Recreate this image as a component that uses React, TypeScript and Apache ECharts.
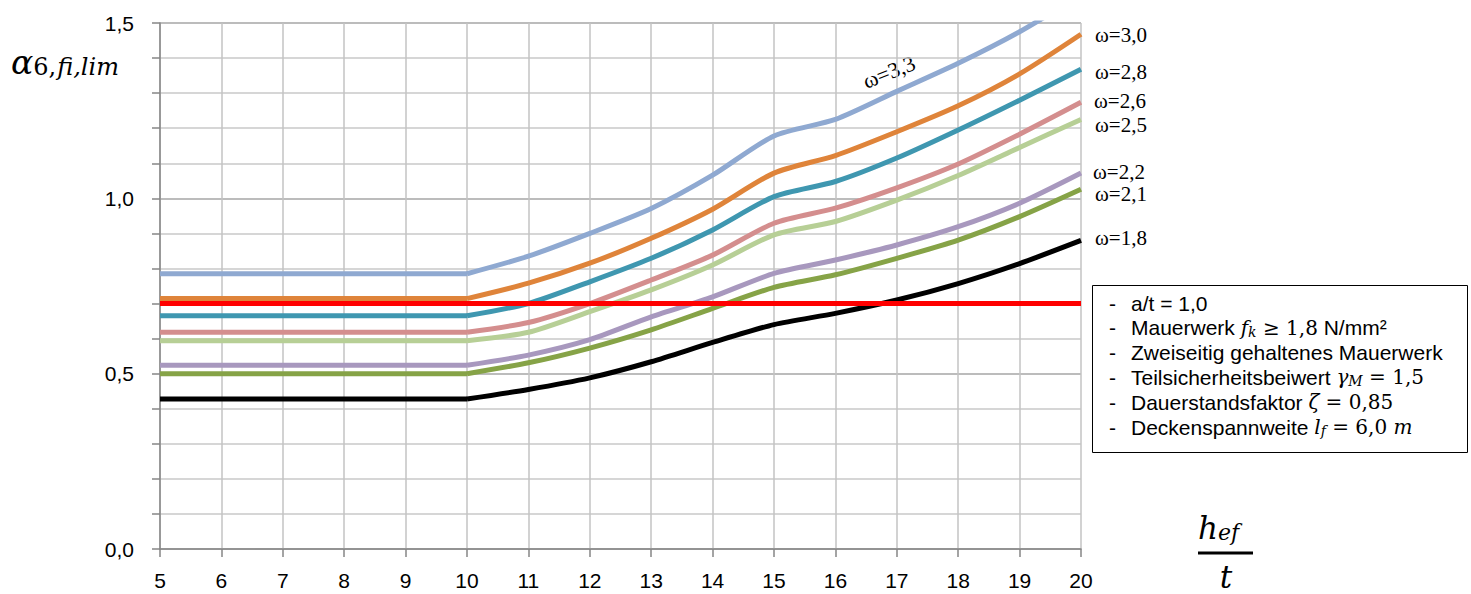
import React, { useEffect, useRef } from "react";
import * as echarts from "echarts";

// h_ef / t values: flat part from 5 to 10, rising part from 10 to 20
const xFlat = [5, 10];
const xRise = [10, 11, 12, 13, 14, 15, 16, 17, 18, 19, 20];

// α6,fi,lim per slenderness, one array per ω (values at xRise)
const omega33 = [0.785, 0.835, 0.9, 0.971, 1.066, 1.178, 1.225, 1.305, 1.385, 1.475, 1.58];
const omega30 = [0.714, 0.758, 0.815, 0.886, 0.969, 1.072, 1.122, 1.19, 1.264, 1.355, 1.468];
const omega28 = [0.665, 0.7, 0.762, 0.829, 0.91, 1.005, 1.048, 1.115, 1.195, 1.28, 1.368];
const omega26 = [0.618, 0.646, 0.7, 0.767, 0.838, 0.929, 0.972, 1.03, 1.098, 1.183, 1.274];
const omega25 = [0.594, 0.618, 0.677, 0.739, 0.81, 0.896, 0.934, 0.995, 1.065, 1.145, 1.225];
const omega22 = [0.524, 0.553, 0.597, 0.662, 0.719, 0.786, 0.824, 0.867, 0.919, 0.986, 1.072];
const omega21 = [0.5, 0.531, 0.573, 0.625, 0.686, 0.746, 0.782, 0.829, 0.881, 0.948, 1.026];
const omega18 = [0.428, 0.455, 0.488, 0.534, 0.589, 0.64, 0.672, 0.71, 0.757, 0.814, 0.88];

// horizontal limit line
const limitValue = 0.7;
const limitX = [5, 20];

const curveNames = ["ω=3,3", "ω=3,0", "ω=2,8", "ω=2,6", "ω=2,5", "ω=2,2", "ω=2,1", "ω=1,8"];
const curveValues = [omega33, omega30, omega28, omega26, omega25, omega22, omega21, omega18];
const curveColors = ["#8FA9D1", "#DF843A", "#3F97B0", "#D48E8E", "#B7CF96", "#A898BE", "#86A347", "#000000"];

// legend box text lines
const noteLines = [
  "a/t = 1,0",
  "Mauerwerk {m|f}{s|k}{r| ≥ 1,8} N/mm²",
  "Zweiseitig gehaltenes Mauerwerk",
  "Teilsicherheitsbeiwert {m|γ}{s|M}{r| = 1,5}",
  "Dauerstandsfaktor {m|ζ}{r| = 0,85}",
  "Deckenspannweite {m|l}{s|f}{r| = 6,0 }{m|m}",
];

// end labels of the curves: [text, x, y]
const endLabels: [string, number, number][] = [
  ["ω=3,0", 1095, 35],
  ["ω=2,8", 1095, 72],
  ["ω=2,6", 1094, 101],
  ["ω=2,5", 1095, 125],
  ["ω=2,2", 1093, 172],
  ["ω=2,1", 1095, 194],
  ["ω=1,8", 1095, 238],
];

const SANS = "'Liberation Sans', Arial, sans-serif";
const SERIF = "'Liberation Serif', 'Times New Roman', serif";
const MATH = "'DejaVu Serif', serif";

export default function App() {
  const ref = useRef<HTMLDivElement>(null);

  useEffect(() => {
    if (!ref.current) return;
    const chart = echarts.init(ref.current, undefined, { renderer: "svg" });

    const series: any[] = [];
    curveValues.forEach((vals, i) => {
      const color = curveColors[i];
      series.push({
        type: "line",
        name: curveNames[i] + " flat",
        data: xFlat.map((x) => [x, vals[0]]),
        showSymbol: false,
        symbol: "none",
        lineStyle: { color, width: 5 },
        z: 2 + i,
      });
      series.push({
        type: "line",
        name: curveNames[i],
        data: xRise.map((x, k) => [x, vals[k]]),
        smooth: 0.25,
        showSymbol: false,
        symbol: "none",
        lineStyle: { color, width: 5 },
        z: 2 + i,
      });
    });
    series.push({
      type: "line",
      name: "limit",
      data: limitX.map((x) => [x, limitValue]),
      showSymbol: false,
      symbol: "none",
      lineStyle: { color: "#FF0000", width: 5 },
      z: 20,
    });

    const graphic: any[] = [];

    // y-axis title α6,fi,lim
    graphic.push({
      type: "text",
      x: 11,
      y: 62,
      style: {
        text: "{a|α}{b|6,}{c|fi,lim}",
        textVerticalAlign: "middle",
        verticalAlign: "middle",
        rich: {
          a: { fontFamily: MATH, fontStyle: "italic", fontSize: 33, lineHeight: 33, fill: "#000" },
          b: { fontFamily: MATH, fontSize: 24, lineHeight: 12, verticalAlign: "bottom", fill: "#000" },
          c: { fontFamily: MATH, fontStyle: "italic", fontSize: 24, lineHeight: 12, verticalAlign: "bottom", fill: "#000", padding: [0, 0, 0, 1] },
        },
      },
    });

    // x-axis title h_ef / t
    graphic.push({
      type: "text",
      x: 1198,
      y: 528,
      style: {
        text: "{h|h}{e|ef}",
        textVerticalAlign: "middle",
        verticalAlign: "middle",
        rich: {
          h: { fontFamily: MATH, fontStyle: "italic", fontSize: 31, lineHeight: 31, fill: "#000" },
          e: { fontFamily: MATH, fontStyle: "italic", fontSize: 22, lineHeight: 12, verticalAlign: "bottom", fill: "#000" },
        },
      },
    });
    graphic.push({
      type: "line",
      shape: { x1: 1198, y1: 553, x2: 1253, y2: 553 },
      style: { stroke: "#000", lineWidth: 3 },
    });
    graphic.push({
      type: "text",
      x: 1226,
      y: 577,
      style: {
        text: "t",
        fontFamily: MATH,
        fontStyle: "italic",
        fontSize: 31,
        fill: "#000",
        textAlign: "center",
        align: "center",
        textVerticalAlign: "middle",
        verticalAlign: "middle",
      },
    });

    // curve labels on the right
    endLabels.forEach(([t, x, y]) => {
      graphic.push({
        type: "text",
        x,
        y,
        style: {
          text: t,
          fontFamily: SERIF,
          fontSize: 21,
          fill: "#000",
          textVerticalAlign: "middle",
          verticalAlign: "middle",
        },
      });
    });
    graphic.push({
      type: "text",
      x: 889,
      y: 72,
      rotation: 0.38,
      style: {
        text: "ω=3,3",
        fontFamily: SERIF,
        fontSize: 22,
        fill: "#000",
        textAlign: "center",
        align: "center",
        textVerticalAlign: "middle",
        verticalAlign: "middle",
      },
    });

    // note box
    graphic.push({
      type: "rect",
      shape: { x: 1092.5, y: 285.5, width: 375, height: 167 },
      style: { fill: "#fff", stroke: "#000", lineWidth: 1 },
      z: 10,
    });
    noteLines.forEach((line, i) => {
      const y = 303 + i * 24.8;
      graphic.push({
        type: "text",
        x: 1109,
        y,
        z: 11,
        style: {
          text: "-",
          fontFamily: SANS,
          fontSize: 21,
          fill: "#000",
          textVerticalAlign: "middle",
          verticalAlign: "middle",
        },
      });
      graphic.push({
        type: "text",
        x: 1131,
        y,
        z: 11,
        style: {
          text: line,
          fontFamily: SANS,
          fontSize: 21,
          fill: "#000",
          textVerticalAlign: "middle",
          verticalAlign: "middle",
          rich: {
            m: { fontFamily: MATH, fontStyle: "italic", fontSize: 20, lineHeight: 22, fill: "#000" },
            s: { fontFamily: MATH, fontStyle: "italic", fontSize: 14, lineHeight: 8, verticalAlign: "bottom", fill: "#000" },
            r: { fontFamily: MATH, fontSize: 20, lineHeight: 22, fill: "#000" },
          },
        },
      });
    });

    chart.setOption({
      animation: false,
      backgroundColor: "#fff",
      grid: { left: 160, right: 390, top: 23, bottom: 45, containLabel: false },
      xAxis: {
        type: "value",
        min: 5,
        max: 20,
        interval: 1,
        axisLine: { show: true, lineStyle: { color: "#868686", width: 1.5 } },
        axisTick: { show: true, length: 8, lineStyle: { color: "#868686", width: 1.5 } },
        axisLabel: { color: "#000", fontSize: 21, fontFamily: SANS, margin: 21 },
        splitLine: { show: true, lineStyle: { color: "#C3C3C3", width: 1.5 } },
      },
      yAxis: {
        type: "value",
        min: 0,
        max: 1.5,
        interval: 0.1,
        axisLine: { show: true, lineStyle: { color: "#868686", width: 1.5 } },
        axisTick: { show: true, length: 8, lineStyle: { color: "#868686", width: 1.5 } },
        axisLabel: {
          color: "#000",
          fontSize: 21,
          fontFamily: SANS,
          margin: 26,
          formatter: (v: number) =>
            Math.round(v * 10) % 5 === 0 ? v.toFixed(1).replace(".", ",") : "",
        },
        splitLine: {
          show: true,
          lineStyle: { color: ["#A6A6A6", "#C8C8C8", "#C8C8C8", "#C8C8C8", "#C8C8C8"], width: 1.5 },
        },
      },
      series,
      graphic,
    });

    return () => chart.dispose();
  }, []);

  return (
    <div
      ref={ref}
      style={{ position: "fixed", left: 0, top: 0, width: 1471, height: 594, background: "#fff" }}
    />
  );
}
